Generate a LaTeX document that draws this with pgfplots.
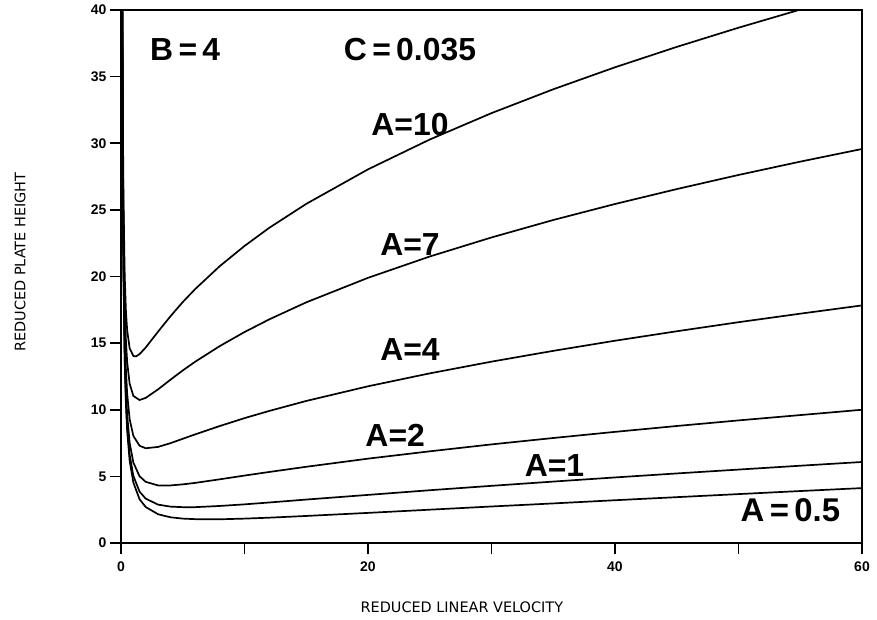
\documentclass[border=0pt]{standalone}
\usepackage{pgfplots}
\pgfplotsset{compat=1.18}
\usepackage{fontspec}
\setmainfont{Liberation Sans}
\newfontfamily\labfont{DejaVu Sans}
\usetikzlibrary{calc}
\begin{document}
\begin{tikzpicture}
\begin{axis}[
  scale only axis,
  width=741bp, height=533bp,
  xmin=0, xmax=60, ymin=0, ymax=40,
  xtick={0,20,40,60},
  minor xtick={10,30,50},
  ytick={0,5,10,15,20,25,30,35,40},
  xtick pos=left, ytick pos=left,
  tick align=outside,
  major tick length=11bp, minor tick length=11bp,
  every tick/.style={black, line width=1.6bp},
  axis line style={line width=1.8bp},
  tick label style={font=\fontsize{14}{16}\selectfont\bfseries},
  /pgf/number format/assume math mode=true,
  xticklabel style={yshift=-4bp},
  xlabel={REDUCED LINEAR VELOCITY},
  ylabel={REDUCED PLATE HEIGHT},
  label style={font=\labfont\fontsize{14.5}{16}\selectfont},
  x label style={at={(axis description cs:0.46,0)}, anchor=center, yshift=-64bp},
  y label style={at={(axis description cs:0,0.527)}, anchor=center, yshift=101bp},
  clip=true,
  every axis plot post/.style={black, solid, line width=1.7bp, mark=none},
]
% A = 0.5
\addplot coordinates {(0.1,40.24)(0.15,26.94)(0.2,20.30)(0.3,13.68)(0.4,10.38)(0.5,8.41)(0.7,6.18)(1,4.54)(1.5,3.29)(2,2.70)(3,2.16)(4,1.93)(5,1.83)(6,1.79)(8,1.78)(10,1.83)(12,1.90)(15,2.03)(20,2.26)(25,2.50)(30,2.74)(35,2.97)(40,3.21)(45,3.44)(50,3.67)(55,3.90)(60,4.12)};
% A = 1
\addplot coordinates {(0.1,40.47)(0.15,27.20)(0.2,20.59)(0.3,14.01)(0.4,10.75)(0.5,8.81)(0.7,6.63)(1,5.04)(1.5,3.86)(2,3.33)(3,2.88)(4,2.73)(5,2.69)(6,2.69)(8,2.78)(10,2.90)(12,3.04)(15,3.26)(20,3.61)(25,3.96)(30,4.29)(35,4.61)(40,4.92)(45,5.22)(50,5.51)(55,5.80)(60,6.08)};
% A = 2
\addplot coordinates {(0.1,40.93)(0.15,27.74)(0.2,21.18)(0.3,14.68)(0.4,11.49)(0.5,9.61)(0.7,7.52)(1,6.04)(1.5,5.01)(2,4.59)(3,4.32)(4,4.32)(5,4.40)(6,4.51)(8,4.78)(10,5.06)(12,5.33)(15,5.72)(20,6.33)(25,6.88)(30,7.40)(35,7.88)(40,8.34)(45,8.78)(50,9.20)(55,9.60)(60,10.00)};
% A = 4
\addplot coordinates {(0.1,41.86)(0.15,28.80)(0.2,22.35)(0.3,16.02)(0.4,12.96)(0.5,11.19)(0.7,9.29)(1,8.04)(1.5,7.30)(2,7.11)(3,7.21)(4,7.49)(5,7.82)(6,8.15)(8,8.78)(10,9.37)(12,9.91)(15,10.66)(20,11.76)(25,12.73)(30,13.61)(35,14.42)(40,15.18)(45,15.89)(50,16.57)(55,17.21)(60,17.83)};
% A = 7
\addplot coordinates {(0.1,43.25)(0.15,30.39)(0.2,24.10)(0.3,18.03)(0.4,15.17)(0.5,13.57)(0.7,11.95)(1,11.04)(1.5,10.73)(2,10.89)(3,11.53)(4,12.25)(5,12.95)(6,13.60)(8,14.78)(10,15.83)(12,16.78)(15,18.06)(20,19.90)(25,21.50)(30,22.93)(35,24.24)(40,25.44)(45,26.56)(50,27.62)(55,28.62)(60,29.57)};
% A = 10
\addplot coordinates {(0.1,44.65)(0.15,31.99)(0.2,25.86)(0.3,20.04)(0.4,17.38)(0.5,15.96)(0.7,14.62)(1,14.04)(1.2,14.00)(1.5,14.17)(2,14.67)(3,15.86)(4,17.01)(5,18.08)(6,19.05)(8,20.78)(10,22.29)(12,23.65)(15,25.45)(20,28.04)(25,30.28)(30,32.26)(35,34.05)(40,35.70)(45,37.23)(50,38.67)(55,40.03)(60,41.32)};
\tikzset{ann/.style={font=\fontsize{32}{36}\selectfont\bfseries}}
\node[ann] at (axis cs:5.2,37.0) {B\,=\,4};
\node[ann] at (axis cs:23.4,37.0) {C\,=\,0.035};
\node[ann] at (axis cs:23.4,31.4) {A=10};
\node[ann] at (axis cs:23.4,22.4) {A=7};
\node[ann] at (axis cs:23.4,14.5) {A=4};
\node[ann] at (axis cs:22.2,8.1) {A=2};
\node[ann] at (axis cs:35.1,5.8) {A=1};
\node[ann, font=\fontsize{33}{38}\selectfont\bfseries] at (axis cs:54.2,2.5) {A\,=\,0.5};
\end{axis}
\pgfresetboundingbox
\path ($(current axis.south west)+(-121bp,-77bp)$) rectangle ($(current axis.north east)+(15bp,10bp)$);
\end{tikzpicture}
\end{document}
